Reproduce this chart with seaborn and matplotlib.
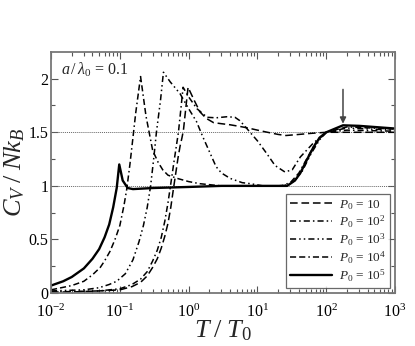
import numpy as np
import pandas as pd
import seaborn as sns
import matplotlib
matplotlib.use("Agg")
import matplotlib.pyplot as plt
from matplotlib.ticker import LogLocator, NullFormatter, FixedLocator

# --- data ---
T_p1 = [0.01, 0.02, 0.05, 0.1, 0.15, 0.2, 0.25, 0.3, 0.35, 0.4, 0.45, 0.5, 0.55, 0.6, 0.65, 0.7,
        0.75, 0.8, 0.84, 0.9, 0.98,
        1.2, 1.46, 1.8, 2.3, 3.0, 4.0, 5.5, 7.3, 10, 14, 20, 26, 40, 60, 100, 200, 1000]
C_p1 = [0.01, 0.01, 0.02, 0.03, 0.06, 0.10, 0.16, 0.24, 0.32, 0.42, 0.53, 0.65, 0.80, 0.97, 1.12, 1.26,
        1.37, 1.45, 1.52, 1.70, 1.92,
        1.80, 1.69, 1.63, 1.59, 1.58, 1.57, 1.555, 1.54, 1.52, 1.50, 1.48, 1.47, 1.48, 1.49, 1.50, 1.50, 1.50]

T_p2 = [0.01, 0.05, 0.1, 0.15, 0.2, 0.25, 0.3, 0.35, 0.4, 0.45, 0.5, 0.55, 0.62, 0.71, 0.78, 0.83,
        1.0, 1.32, 1.85, 2.5, 3.6, 4.7, 5.5, 6.5, 7.8, 10, 13.7, 18, 25, 32, 42, 65, 100, 200, 1000]
C_p2 = [0.01, 0.02, 0.04, 0.08, 0.13, 0.20, 0.30, 0.40, 0.52, 0.67, 0.84, 1.02, 1.25, 1.50, 1.75, 1.92,
        1.83, 1.72, 1.64, 1.635, 1.645, 1.64, 1.61, 1.56, 1.50, 1.42, 1.30, 1.19, 1.13, 1.15, 1.27, 1.40, 1.50, 1.52, 1.51]

T_p3 = [0.01, 0.03, 0.05, 0.07, 0.09, 0.12, 0.155, 0.19, 0.22, 0.25, 0.28, 0.31, 0.34, 0.39, 0.43,
        0.54, 0.75, 1.0, 1.3, 1.6, 2.0, 2.5, 3.0, 4.0, 6.0, 8.0, 12, 20, 28, 35, 45, 60, 80, 100, 200, 1000]
C_p3 = [0.02, 0.03, 0.05, 0.08, 0.11, 0.18, 0.31, 0.48, 0.63, 0.80, 1.00, 1.25, 1.50, 1.80, 2.06,
        1.97, 1.86, 1.72, 1.60, 1.46, 1.32, 1.18, 1.12, 1.07, 1.03, 1.02, 1.00, 1.00, 1.01, 1.05, 1.14, 1.30, 1.43, 1.50, 1.54, 1.52]

T_p4 = [0.01, 0.02, 0.03, 0.04, 0.052, 0.06, 0.072, 0.085, 0.1, 0.115, 0.126, 0.14, 0.155, 0.17, 0.2,
        0.24, 0.3, 0.36, 0.42, 0.5, 0.68, 1.0, 1.47, 3, 10, 22, 30, 40, 55, 70, 100, 200, 1000]
C_p4 = [0.03, 0.07, 0.11, 0.17, 0.24, 0.30, 0.39, 0.50, 0.63, 0.82, 0.97, 1.20, 1.45, 1.68, 2.02,
        1.65, 1.33, 1.22, 1.15, 1.10, 1.07, 1.04, 1.02, 1.00, 1.00, 1.00, 1.03, 1.12, 1.28, 1.40, 1.50, 1.55, 1.53]

T_p5 = [0.01, 0.015, 0.02, 0.03, 0.04, 0.05, 0.06, 0.07, 0.08, 0.09, 0.098, 0.11, 0.13, 0.155, 0.3, 1, 3, 10,
        27, 35, 42, 52, 65, 80, 100, 175, 300, 1000]
C_p5 = [0.07, 0.11, 0.15, 0.23, 0.32, 0.41, 0.52, 0.64, 0.80, 0.98, 1.20, 1.05, 0.98, 0.97, 0.98, 0.99, 1.00, 1.00,
        1.00, 1.05, 1.12, 1.24, 1.36, 1.45, 1.50, 1.565, 1.56, 1.535]

labels = [r"$P_{\mathit{0}}$ = 10", r"$P_{\mathit{0}}$ = 10$^2$", r"$P_{\mathit{0}}$ = 10$^3$",
          r"$P_{\mathit{0}}$ = 10$^4$", r"$P_{\mathit{0}}$ = 10$^5$"]

# --- style ---
sns.set_style("ticks")
plt.rcParams["font.family"] = ["Liberation Serif", "DejaVu Serif"]
plt.rcParams["mathtext.fontset"] = "custom"
plt.rcParams["mathtext.rm"] = "Liberation Serif"
plt.rcParams["mathtext.it"] = "Liberation Serif:italic"
plt.rcParams["xtick.direction"] = "in"
plt.rcParams["ytick.direction"] = "in"

fig = plt.figure(figsize=(4.15, 3.46), dpi=100)
ax = fig.add_axes([0.123, 0.153, 0.829, 0.697])

curves = [(T_p1, C_p1, (0, (5, 2.5)), 1.1),
          (T_p2, C_p2, (0, (4, 2, 1, 2)), 1.1),
          (T_p3, C_p3, (0, (4, 2, 1, 2, 1, 2)), 1.1),
          (T_p4, C_p4, (0, (4, 2, 4, 2, 1, 2)), 1.1),
          (T_p5, C_p5, "-", 1.7)]

ax.axhline(1.0, color="#666666", lw=0.7, ls=(0, (1, 1)), zorder=1)
ax.axhline(1.5, color="#666666", lw=0.7, ls=(0, (1, 1)), zorder=1)

for (t, c, ls, lw), lab in zip(curves, labels):
    df = pd.DataFrame({"T": t, "C": c})
    sns.lineplot(data=df, x="T", y="C", ax=ax, color="black", lw=lw,
                 linestyle=ls, label=lab, sort=False)

ax.set_xscale("log")
ax.set_xlim(0.01, 1000)
ax.set_ylim(0, 2.25)

ax.xaxis.set_minor_locator(LogLocator(base=10, subs=np.arange(2, 10), numticks=10))
ax.xaxis.set_minor_formatter(NullFormatter())
ax.set_xticks([1e-2, 1e-1, 1, 10, 100, 1000])
ax.set_xticklabels([r"10$^{-2}$", r"10$^{-1}$", r"10$^{0}$", r"10$^{1}$", r"10$^{2}$", r"10$^{3}$"])
ax.set_yticks([0, 0.5, 1, 1.5, 2])
ax.set_yticklabels(["0", "0.5", "1", "1.5", "2"])
ax.yaxis.set_minor_locator(FixedLocator([0.25, 0.75, 1.25, 1.75]))

ax.tick_params(axis="both", which="both", top=True, right=True, colors="#555555",
               labelcolor="black", labelsize=11.5)
ax.tick_params(axis="both", which="major", length=5, width=0.8)
ax.tick_params(axis="x", which="major", pad=8)
ax.tick_params(axis="y", which="major", pad=2)
ax.tick_params(axis="both", which="minor", length=3, width=0.8)
for s in ax.spines.values():
    s.set_color("#777777")
    s.set_linewidth(1.3)

ax.set_xlabel(r"$T\;/\;T_{\mathit{0}}$", fontsize=19, labelpad=-2)
ax.set_ylabel(r"$C_V\;/\;Nk_B$", fontsize=19, labelpad=1)

ax.text(0.014, 2.04, r"$a\,/\,\lambda_0$ = 0.1", fontsize=11.5)
ax.annotate("", xy=(175, 1.58), xytext=(175, 1.9),
            arrowprops=dict(arrowstyle="-|>", color="#444444", lw=1.1,
                            mutation_scale=9, shrinkA=0, shrinkB=0))

leg = ax.legend(loc="lower right", fontsize=9.5, handlelength=3.2, frameon=True,
                fancybox=False, borderaxespad=0.4, labelspacing=0.12,
                borderpad=0.3, handletextpad=0.5)
leg.get_frame().set_edgecolor("#444444")
leg.get_frame().set_linewidth(0.9)

fig.savefig("out.png", dpi=100)
